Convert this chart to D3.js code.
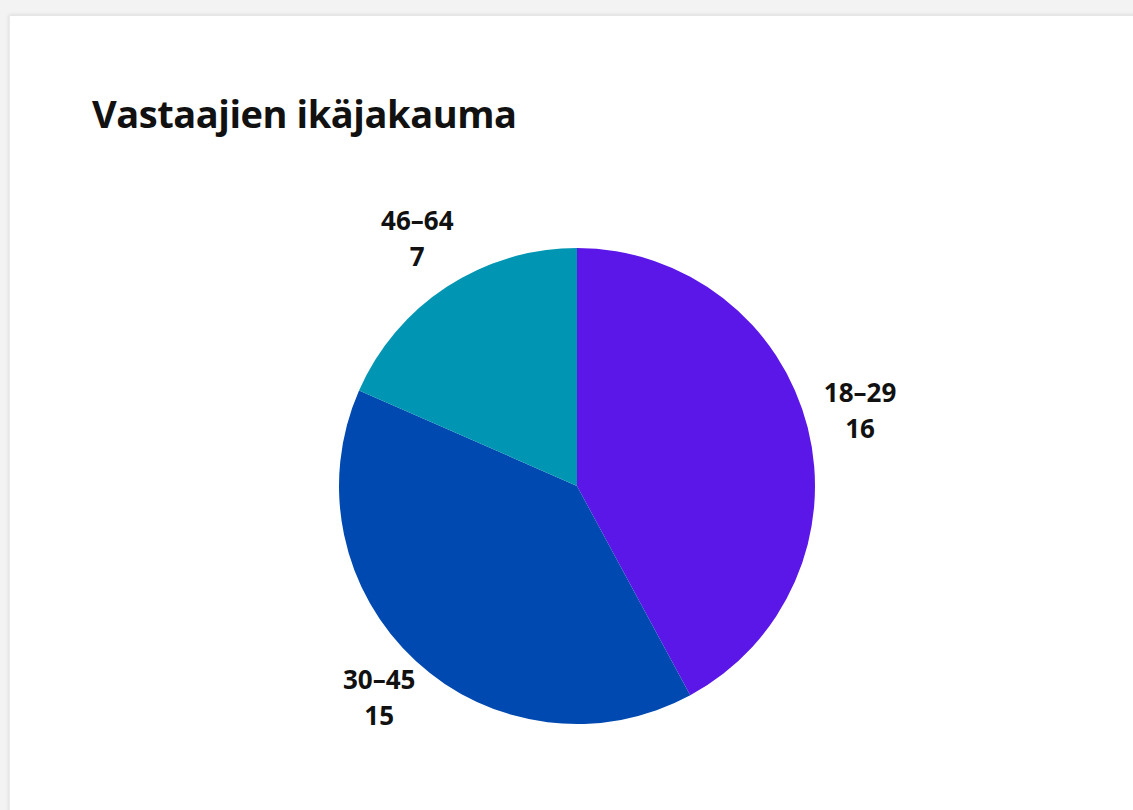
<!DOCTYPE html>
<html><head><meta charset="utf-8">
<script src="https://cdn.jsdelivr.net/npm/d3@7"></script>
<style>
html,body{margin:0;padding:0;width:1133px;height:810px;overflow:hidden;background:#f3f3f3;}
#card{position:absolute;left:9px;top:15px;width:1200px;height:900px;background:#fff;box-shadow:0 0 4px rgba(0,0,0,0.12);border-top:1px solid #e6e6e6;border-left:1px solid #ececec;}
svg{position:absolute;left:0;top:0;}
text{font-family:"Open Sans", Lato, sans-serif;font-weight:700;fill:#111;}
</style></head>
<body><div id="card"></div>
<svg id="chart" width="1133" height="810"></svg>
<script>
const title = "Vastaajien ikäjakauma";
const categories = ["18–29", "30–45", "46–64"];
const values = [16, 15, 7];
const colors = ["#5b17e8", "#0049b0", "#0096b3"];

const svg = d3.select("#chart");
const t = svg.append("text").attr("x", 92).attr("y", 128).attr("font-size", 38).text(title);
const tw = t.node().getComputedTextLength();
if (Math.abs(tw - 425) > 4) t.attr("textLength", 425).attr("lengthAdjust", "spacing");

const cx = 577, cy = 486, r = 238, labelR = 292;
const pie = d3.pie().sort(null).value(d => d.v);
const arcs = pie(categories.map((c, i) => ({c, v: values[i], col: colors[i]})));
const arc = d3.arc().innerRadius(0).outerRadius(r);
const labelArc = d3.arc().innerRadius(labelR).outerRadius(labelR);
const g = svg.append("g").attr("transform", `translate(${cx},${cy})`);
g.selectAll("path").data(arcs).join("path").attr("d", arc).attr("fill", d => d.data.col);
const lg = g.selectAll("g.lab").data(arcs).join("g").attr("class", "lab")
  .attr("transform", d => `translate(${labelArc.centroid(d)})`);
lg.append("text").attr("text-anchor", "middle").attr("font-size", 26).attr("dy", -12).text(d => d.data.c);
lg.append("text").attr("text-anchor", "middle").attr("font-size", 26).attr("dy", 24).text(d => d.data.v);
</script></body></html>
